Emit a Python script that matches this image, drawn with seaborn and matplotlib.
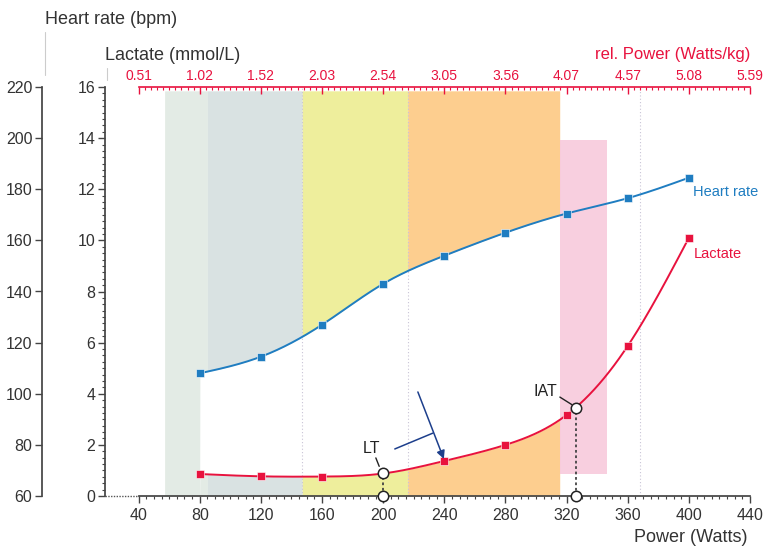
import numpy as np
import pandas as pd
import matplotlib
matplotlib.use("Agg")
import matplotlib.pyplot as plt
from matplotlib.ticker import MultipleLocator, FixedLocator
import seaborn as sns

# ---------------- data ----------------
power = [80, 120, 160, 200, 240, 280, 320, 360, 400]
heart_rate = [108, 114.5, 127, 143, 154, 163, 170.5, 176.5, 184.5]
lactate = [0.86, 0.77, 0.76, 0.88, 1.37, 2.0, 3.17, 5.87, 10.1]

lt_point = (200, 0.9)
iat_point = (326, 3.45)

x_ticks = [40, 80, 120, 160, 200, 240, 280, 320, 360, 400, 440]
rel_labels = ["0.51", "1.02", "1.52", "2.03", "2.54", "3.05", "3.56", "4.07", "4.57", "5.08", "5.59"]
lac_ticks = [0, 2, 4, 6, 8, 10, 12, 14, 16]
hr_ticks = [60, 80, 100, 120, 140, 160, 180, 200, 220]

# training zones (watts)
zones = [
    (57, 85, "#e3ebe5"),
    (85, 147, "#d9e2e2"),
    (147, 216, "#eeee9c"),
    (216, 315.5, "#fdce8f"),
]
iat_zone = (315.5, 346.5, 0.86, 13.93, "#f7c3d8")
guide_lines = [147, 216, 368]

BLUE = "#1f7dc1"
RED = "#e8123e"
DARK_BLUE = "#1d3f8c"

# ---------------- helpers ----------------
def natural_spline(x, y, xs):
    x = np.asarray(x, float); y = np.asarray(y, float)
    n = len(x); h = np.diff(x)
    A = np.zeros((n, n)); b = np.zeros(n)
    A[0, 0] = A[-1, -1] = 1
    for i in range(1, n - 1):
        A[i, i - 1] = h[i - 1]; A[i, i] = 2 * (h[i - 1] + h[i]); A[i, i + 1] = h[i]
        b[i] = 6 * ((y[i + 1] - y[i]) / h[i] - (y[i] - y[i - 1]) / h[i - 1])
    M = np.linalg.solve(A, b)
    xs = np.asarray(xs, float)
    idx = np.clip(np.searchsorted(x, xs) - 1, 0, n - 2)
    x0 = x[idx]; x1 = x[idx + 1]; hh = x1 - x0
    t0 = x1 - xs; t1 = xs - x0
    return (M[idx] * t0 ** 3 / (6 * hh) + M[idx + 1] * t1 ** 3 / (6 * hh)
            + (y[idx] / hh - M[idx] * hh / 6) * t0 + (y[idx + 1] / hh - M[idx + 1] * hh / 6) * t1)

def hr_curve(xs):
    return natural_spline(power, heart_rate, xs)

def lac_curve(xs):
    return natural_spline(power, lactate, xs)

def hr_to_lac(v):
    return (np.asarray(v) - 60) / 10.0

# ---------------- figure ----------------
sns.set_theme(style="white")
plt.rcParams["font.family"] = ["Liberation Sans", "DejaVu Sans"]

fig = plt.figure(figsize=(7.67, 5.5), dpi=100)
fig.patch.set_facecolor("white")
ax = fig.add_axes([105 / 767, 1 - 496 / 550, 645 / 767, 409 / 550])
ax.set_facecolor("white")
ax.set_xlim(18, 440)
ax.set_ylim(0, 16)

xs_fine = np.linspace(80, 400, 400)
hr_fine = hr_curve(xs_fine)
lac_fine = lac_curve(xs_fine)

# zones: above heart-rate curve and below lactate curve
for x0, x1, col in zones:
    xz = np.linspace(x0, x1, 200)
    inside = xz >= 80
    xc = np.clip(xz, 80, 400)
    hr_z = np.where(inside, hr_to_lac(hr_curve(xc)), 0)
    lac_z = np.where(inside, lac_curve(xc), 0)
    ax.fill_between(xz, hr_z, 15.85, color=col, lw=0, zorder=1)
    ax.fill_between(xz, 0, lac_z, color=col, lw=0, zorder=1)

x0, x1, y0, y1, col = iat_zone
ax.fill_between([x0, x1], y0, y1, color=col, alpha=0.8, lw=0, zorder=1.5)

for g in guide_lines:
    ax.axvline(g, color="#c9c4d6", lw=0.8, ls=(0, (1, 2)), zorder=1.2)

# curves
curve_df = pd.DataFrame({"power": xs_fine, "hr": hr_to_lac(hr_fine), "lac": lac_fine})
pts_df = pd.DataFrame({"power": power, "hr": hr_to_lac(heart_rate), "lac": lactate})
sns.lineplot(data=curve_df, x="power", y="hr", ax=ax, color=BLUE, lw=1.4, zorder=3)
sns.lineplot(data=curve_df, x="power", y="lac", ax=ax, color=RED, lw=1.4, zorder=3)
sns.scatterplot(data=pts_df, x="power", y="hr", ax=ax, color=BLUE, marker="s", s=38,
                edgecolor="white", linewidth=0.4, zorder=4)
sns.scatterplot(data=pts_df, x="power", y="lac", ax=ax, color=RED, marker="s", s=38,
                edgecolor="white", linewidth=0.4, zorder=4)

ax.text(403, hr_to_lac(heart_rate[-1]) - 0.55, "Heart rate", color=BLUE, fontsize=10.5,
        ha="left", va="center")
ax.text(403, lactate[-1] - 0.65, "Lactate", color=RED, fontsize=10.5, ha="left", va="center")

# LT and IAT markers
for (px, py) in (lt_point, iat_point):
    ax.plot([px, px], [0, py], color="#444444", lw=1.3, ls=(0, (1.5, 1.5)), zorder=5)
    ax.plot([px, px], [0, py], ls="none", marker="o", ms=7.5, mfc="white", mec="#222222",
            mew=1.1, zorder=6, clip_on=False)
ax.text(lt_point[0] - 7.5, lt_point[1] + 0.95, "LT", fontsize=11.5, color="#222222",
        ha="center", va="center", zorder=6)
ax.plot([195.2, 197.4], [1.49, 1.16], color="#222222", lw=1.0, zorder=6)
ax.text(iat_point[0] - 20, iat_point[1] + 0.62, "IAT", fontsize=11.5, color="#222222",
        ha="center", va="center", zorder=6)
ax.plot([315.6, 323.3], [3.87, 3.58], color="#222222", lw=1.0, zorder=6)

# blue pointer to the 240 W lactate value
ax.annotate("", xy=(239.7, 1.45), xytext=(222.7, 4.07),
            arrowprops=dict(arrowstyle="-|>", color=DARK_BLUE, lw=1.1, mutation_scale=12,
                            shrinkA=0, shrinkB=0), zorder=6)
ax.plot([207.6, 232.5], [1.84, 2.46], color=DARK_BLUE, lw=1.1, zorder=6)

# axes styling (lactate axis + power axis)
for s in ("top", "right"):
    ax.spines[s].set_visible(False)
ax.spines["left"].set_color("#444444")
ax.spines["bottom"].set_color("#444444")
ax.spines["bottom"].set_bounds(40, 440)
ax.plot([18, 40], [0, 0], color="#555555", lw=1, ls=(0, (1, 1)), clip_on=False, zorder=2)
ax.set_xticks(x_ticks)
ax.set_xticklabels([str(t) for t in x_ticks])
ax.xaxis.set_minor_locator(FixedLocator(np.arange(40, 441, 5)))
ax.set_yticks(lac_ticks)
ax.set_yticklabels([str(t) for t in lac_ticks])
ax.yaxis.set_minor_locator(MultipleLocator(0.25))
ax.tick_params(axis="both", which="major", direction="out", length=5, width=1,
               color="#444444", labelsize=11.5, labelcolor="#333333", pad=2)
ax.tick_params(axis="both", which="minor", direction="out", length=2.5, width=0.8,
               color="#444444")
ax.tick_params(axis="x", pad=4)
ax.set_xlabel("")
ax.set_ylabel("")

# heart rate axis (outer left)
ax_hr = ax.twinx()
ax_hr.set_ylim(60, 220)
ax_hr.yaxis.set_label_position("left")
ax_hr.yaxis.set_ticks_position("left")
ax_hr.spines["left"].set_position(("axes", -63 / 645))
ax_hr.spines["left"].set_visible(True)
ax_hr.spines["left"].set_color("#444444")
for s in ("top", "right", "bottom"):
    ax_hr.spines[s].set_visible(False)
ax_hr.set_yticks(hr_ticks)
ax_hr.set_yticklabels([str(t) for t in hr_ticks])
ax_hr.tick_params(axis="y", which="major", direction="out", length=5, width=1,
                  color="#444444", labelsize=11.5, labelcolor="#333333", pad=2)
ax_hr.grid(False)

# relative power axis (top, red)
ax_top = ax.twiny()
ax_top.set_xlim(ax.get_xlim())
for s in ("left", "right", "bottom"):
    ax_top.spines[s].set_visible(False)
ax_top.spines["top"].set_color(RED)
ax_top.spines["top"].set_linewidth(1.2)
ax_top.spines["top"].set_bounds(40, 440)
ax_top.set_xticks(x_ticks)
ax_top.set_xticklabels(rel_labels)
ax_top.xaxis.set_minor_locator(FixedLocator(np.arange(40, 441, 4)))
ax_top.tick_params(axis="x", which="major", direction="in", length=5, width=1,
                   color=RED, labelcolor=RED, labelsize=10, pad=3)
ax_top.tick_params(axis="x", which="minor", direction="in", length=2.5, width=0.8, color=RED)
ax_top.grid(False)

# axis titles
fig.text(45 / 767, 1 - 19 / 550, "Heart rate (bpm)", fontsize=13, color="#333333",
         ha="left", va="center")
fig.text(105 / 767, 1 - 55 / 550, "Lactate (mmol/L)", fontsize=13, color="#333333",
         ha="left", va="center")
fig.text(750 / 767, 1 - 55 / 550, "rel. Power (Watts/kg)", fontsize=12, color=RED,
         ha="right", va="center")
fig.text(747 / 767, 1 - 538 / 550, "Power (Watts)", fontsize=13, color="#333333",
         ha="right", va="center")
# faint leader lines under the vertical-axis titles
fig.add_artist(plt.Line2D([45 / 767, 45 / 767], [1 - 32 / 550, 1 - 75 / 550],
                          color="#cccccc", lw=0.8))
fig.add_artist(plt.Line2D([107 / 767, 107 / 767], [1 - 68 / 550, 1 - 80 / 550],
                          color="#cccccc", lw=0.8))

fig.savefig("out.png", dpi=100, facecolor="white")
